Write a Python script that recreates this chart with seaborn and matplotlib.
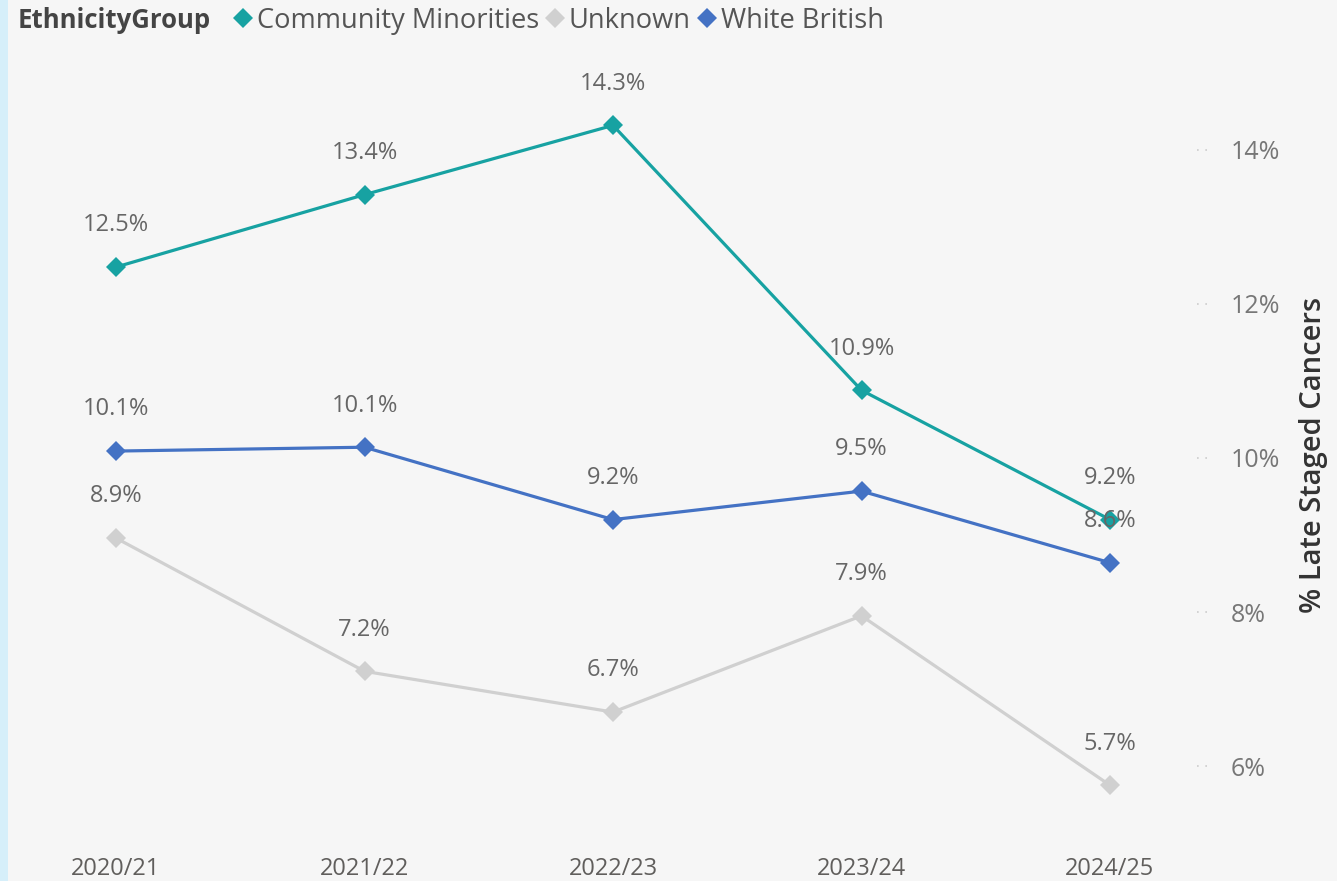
import matplotlib
matplotlib.use("Agg")
import matplotlib.pyplot as plt
from matplotlib.lines import Line2D
from matplotlib.patches import Rectangle
import seaborn as sns
import pandas as pd

years = ["2020/21", "2021/22", "2022/23", "2023/24", "2024/25"]
community_minorities = [12.5, 13.4, 14.3, 10.9, 9.2]
unknown = [8.9, 7.2, 6.7, 7.9, 5.7]
white_british = [10.1, 10.1, 9.2, 9.5, 8.6]
groups = ["Community Minorities", "Unknown", "White British"]
y_ticks = [6, 8, 10, 12, 14]

# finer positions (labels show rounded values)
cm_pos = [12.48, 13.42, 14.32, 10.88, 9.2]
unk_pos = [8.96, 7.23, 6.70, 7.95, 5.75]
wb_pos = [10.09, 10.14, 9.2, 9.57, 8.64]

colors = {"Community Minorities": "#17a2a2", "Unknown": "#d0d0d0", "White British": "#4472c4"}

rows = []
for g, pos, lab in [("Community Minorities", cm_pos, community_minorities),
                    ("Unknown", unk_pos, unknown),
                    ("White British", wb_pos, white_british)]:
    for i, (p, l) in enumerate(zip(pos, lab)):
        rows.append({"year": years[i], "x": i, "value": p, "label": l, "group": g})
df = pd.DataFrame(rows)

sns.set_theme(style="white")
plt.rcParams["font.family"] = ["Open Sans", "DejaVu Sans"]

W, H = 1337, 881
fig = plt.figure(figsize=(W / 100, H / 100), dpi=100)
bg = "#f6f6f6"
fig.patch.set_facecolor(bg)
fig.patches.append(Rectangle((0, 0), 8 / W, 1, transform=fig.transFigure,
                             facecolor="#d6effa", edgecolor="none", zorder=0))

ax_left, ax_right, ax_top, ax_bot = 20, 1190, 60, 840
ax = fig.add_axes([ax_left / W, 1 - ax_bot / H, (ax_right - ax_left) / W, (ax_bot - ax_top) / H])
ax.set_facecolor(bg)

sns.lineplot(data=df, x="x", y="value", hue="group", hue_order=groups, palette=colors,
             marker="D", markersize=10, markeredgewidth=0, linewidth=2.3, legend=False, ax=ax)

for _, r in df.iterrows():
    ax.annotate(f"{r['label']:.1f}%", (r["x"], r["value"]), xytext=(0, 30),
                textcoords="offset points", ha="center", va="center",
                fontsize=17, color="#666666")

spacing = 248.5
x0_px = 116
ax.set_xlim(-(x0_px - ax_left) / spacing, (ax_right - x0_px) / spacing)
px_per = 77.0
ax.set_ylim(10 - (ax_bot - 458) / px_per, 10 + (458 - ax_top) / px_per)

ax.set_xticks(range(len(years)))
ax.set_xticklabels(years)
ax.yaxis.tick_right()
ax.set_yticks(y_ticks)
ax.set_yticklabels([f"{t}%" for t in y_ticks])
ax.tick_params(axis="x", length=0, pad=12, labelsize=17, labelcolor="#605e5c")
ax.tick_params(axis="y", length=0, pad=29, labelsize=18, labelcolor="#777777")
for lbl in ax.get_yticklabels():
    lbl.set_horizontalalignment("left")
ax.set_xlabel("")
ax.yaxis.set_label_position("right")
ax.set_ylabel("% Late Staged Cancers", fontsize=21, color="#333333", fontweight="semibold",
              rotation=90)
ax.yaxis.set_label_coords((1299 - ax_left) / (ax_right - ax_left), (ax_bot - 455) / (ax_bot - ax_top))
for s in ax.spines.values():
    s.set_visible(False)

# faint dotted grid remnants next to tick labels
for t in y_ticks:
    ax.plot([1.006, 1.02], [t, t], transform=ax.get_yaxis_transform(), clip_on=False,
            color="#cccccc", linestyle=(0, (1, 4)), linewidth=1.2)

fig.text(18 / W, 1 - 21 / H, "EthnicityGroup", fontsize=18.5, fontweight="bold",
         color="#444444", ha="left", va="center")
handles = [Line2D([], [], linestyle="none", marker="D", markersize=10, markeredgewidth=0,
                  color=colors[g]) for g in groups]
fig.legend(handles, groups, loc="center left", bbox_to_anchor=(235 / W, 1 - 21 / H),
           ncol=3, frameon=False, handlelength=0.6, handletextpad=0.2, columnspacing=0.3,
           fontsize=19.6, labelcolor="#555555", borderaxespad=0, borderpad=0)

fig.savefig("out.png", dpi=100, facecolor=bg)
